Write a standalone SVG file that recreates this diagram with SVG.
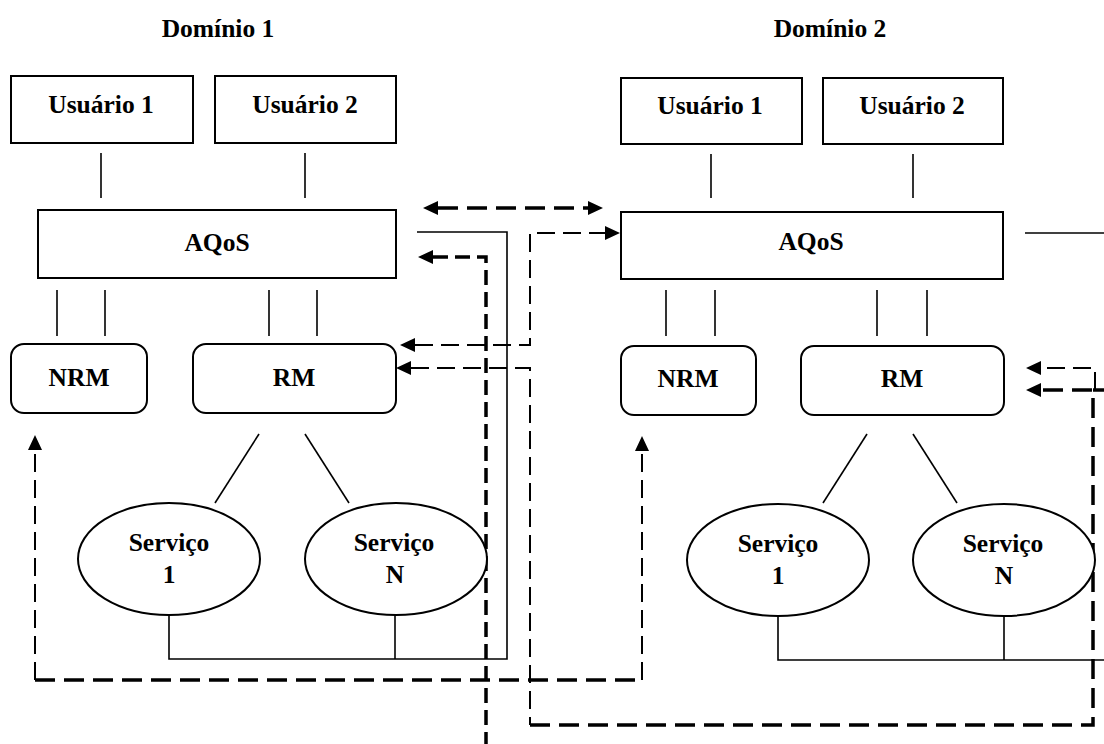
<svg xmlns="http://www.w3.org/2000/svg" width="1104" height="744" viewBox="0 0 1104 744">
<style>
.box{fill:#fff;stroke:#000;stroke-width:2}
.ln{fill:none;stroke:#000;stroke-width:1.6}
.thin{fill:none;stroke:#000;stroke-width:2;stroke-dasharray:18 8}
.thick{fill:none;stroke:#000;stroke-width:3.5;stroke-dasharray:20 9}
.vthick{fill:none;stroke:#000;stroke-width:3.5;stroke-dasharray:15 7}
text{font-family:"Liberation Serif","Times New Roman",serif;font-weight:bold;font-size:25.5px;text-anchor:middle;fill:#000}
</style>
<defs>
<marker id="ah" markerUnits="userSpaceOnUse" markerWidth="16" markerHeight="16" refX="0" refY="7" orient="auto-start-reverse" overflow="visible">
<path d="M0,0 L15,7 L0,14 z" fill="#000"/>
</marker>
</defs>
<text x="218" y="37">Domínio 1</text>
<text x="830" y="37">Domínio 2</text>
<g id="connectors">
<line class="ln" x1="101" y1="153" x2="101" y2="198"/>
<line class="ln" x1="305" y1="153" x2="305" y2="198"/>
<line class="ln" x1="711" y1="154" x2="711" y2="198"/>
<line class="ln" x1="913" y1="154" x2="913" y2="198"/>
<line class="ln" x1="57" y1="290" x2="57" y2="336"/>
<line class="ln" x1="105" y1="290" x2="105" y2="336"/>
<line class="ln" x1="269" y1="290" x2="269" y2="336"/>
<line class="ln" x1="317" y1="290" x2="317" y2="336"/>
<line class="ln" x1="666" y1="290" x2="666" y2="336"/>
<line class="ln" x1="715" y1="290" x2="715" y2="336"/>
<line class="ln" x1="877" y1="290" x2="877" y2="336"/>
<line class="ln" x1="927" y1="290" x2="927" y2="336"/>
<line class="ln" x1="259" y1="434" x2="215" y2="503"/>
<line class="ln" x1="305" y1="434" x2="349" y2="503"/>
<line class="ln" x1="867" y1="434" x2="823" y2="503"/>
<line class="ln" x1="913" y1="434" x2="957" y2="503"/>
<path class="ln" d="M169,615 V659 H507 V232 H417"/>
<line class="ln" x1="395" y1="615" x2="395" y2="659"/>
<path class="ln" d="M778,615 V660 H1104"/>
<line class="ln" x1="1004" y1="615" x2="1004" y2="660"/>
<line class="ln" x1="1025" y1="233" x2="1104" y2="233"/>
<path class="thick" d="M438,208 H588" marker-start="url(#ah)" marker-end="url(#ah)"/>
<path class="thin" d="M415,345 H530 V233 H605" marker-start="url(#ah)" marker-end="url(#ah)"/>
<path class="thin" d="M411,368 H530 V725" marker-start="url(#ah)"/>
<path class="thick" d="M530,725 H1093 V390 H1041" marker-end="url(#ah)"/>
<path class="thick" d="M1093,390 H1104"/>
<path class="thin" d="M1095,390 V368 H1041" marker-end="url(#ah)"/>
<path class="vthick" d="M433,257 H486 V744" marker-start="url(#ah)"/>
<path class="thin" d="M35,680 V450" marker-end="url(#ah)"/>
<path class="thick" d="M35,680 H642"/>
<path class="thin" d="M642,680 V451" marker-end="url(#ah)"/>
</g>
<g id="d1-usuario1"><rect class="box" x="11" y="76" width="182" height="67"/><text x="101" y="113">Usuário 1</text></g>
<g id="d1-usuario2"><rect class="box" x="215" y="76" width="181" height="67"/><text x="305" y="113">Usuário 2</text></g>
<g id="d1-aqos"><rect class="box" x="38" y="210" width="358" height="68"/><text x="217" y="251">AQoS</text></g>
<g id="d1-nrm"><rect class="box" x="11" y="344" width="136" height="69" rx="13"/><text x="79" y="386">NRM</text></g>
<g id="d1-rm"><rect class="box" x="193" y="344" width="203" height="69" rx="13"/><text x="294" y="386">RM</text></g>
<g id="d1-servico1"><ellipse class="box" cx="169" cy="559" rx="91" ry="56"/><text x="169" y="551">Serviço</text><text x="169" y="583">1</text></g>
<g id="d1-servicoN"><ellipse class="box" cx="396" cy="559" rx="91" ry="56"/><text x="394" y="551">Serviço</text><text x="395" y="583">N</text></g>
<g id="d2-usuario1"><rect class="box" x="621" y="78" width="181" height="66"/><text x="710" y="114">Usuário 1</text></g>
<g id="d2-usuario2"><rect class="box" x="823" y="78" width="180" height="66"/><text x="912" y="114">Usuário 2</text></g>
<g id="d2-aqos"><rect class="box" x="621" y="212" width="382" height="67"/><text x="811" y="250">AQoS</text></g>
<g id="d2-nrm"><rect class="box" x="621" y="346" width="135" height="69" rx="13"/><text x="688" y="387">NRM</text></g>
<g id="d2-rm"><rect class="box" x="801" y="346" width="203" height="69" rx="13"/><text x="902" y="387">RM</text></g>
<g id="d2-servico1"><ellipse class="box" cx="778" cy="560" rx="91" ry="56"/><text x="778" y="552">Serviço</text><text x="778" y="584">1</text></g>
<g id="d2-servicoN"><ellipse class="box" cx="1004" cy="560" rx="91" ry="56"/><text x="1003" y="552">Serviço</text><text x="1004" y="584">N</text></g>
</svg>
